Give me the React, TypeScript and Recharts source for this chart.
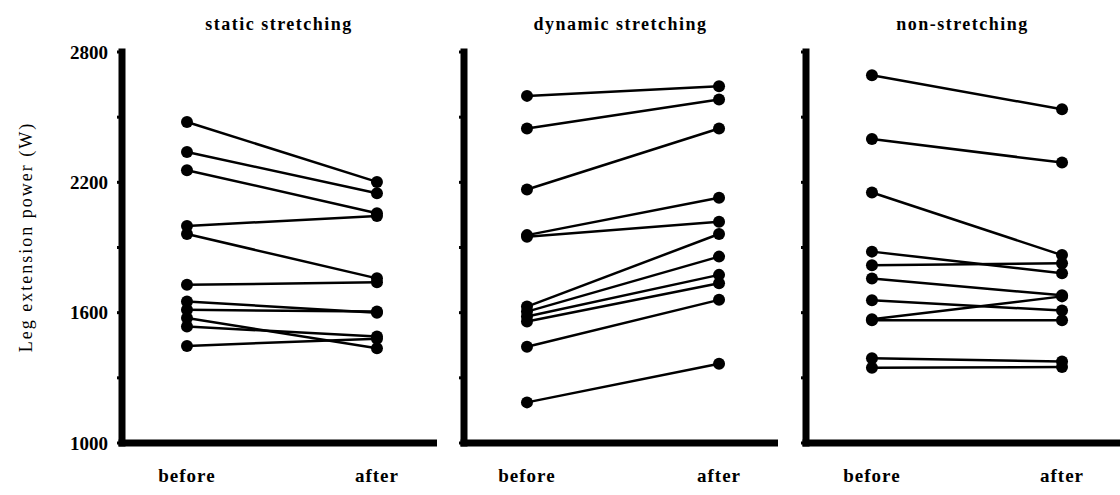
import { LineChart, Line, XAxis, YAxis } from 'recharts';

const panelTitles = ['static stretching', 'dynamic stretching', 'non-stretching'];
const phaseLabels = ['before', 'after'];
const powerTicks = [1000, 1300, 1600, 1900, 2200, 2500, 2800];
const labelledTicks = [1000, 1600, 2200, 2800];

const staticBefore = [2478, 2340, 2256, 1999, 1962, 1728, 1651, 1613, 1575, 1536, 1447];
const staticAfter = [2202, 2150, 2058, 2045, 1758, 1740, 1600, 1605, 1436, 1490, 1480];

const dynamicBefore = [2598, 2448, 2167, 1957, 1950, 1628, 1605, 1582, 1559, 1443, 1187];
const dynamicAfter = [2642, 2581, 2448, 2129, 2019, 1962, 1858, 1774, 1735, 1659, 1365];

const nonBefore = [2693, 2399, 2153, 1881, 1818, 1757, 1657, 1570, 1565, 1390, 1346];
const nonAfter = [2536, 2291, 1865, 1781, 1827, 1680, 1610, 1675, 1565, 1375, 1350];

const serif = '"Liberation Serif", "DejaVu Serif", serif';

// one row per phase, one key per subject
function buildRows(before: number[], after: number[]) {
  const b: Record<string, number> = { x: 0 };
  const a: Record<string, number> = { x: 1 };
  before.forEach((v, i) => { b[`s${i}`] = v; });
  after.forEach((v, i) => { a[`s${i}`] = v; });
  return [b, a];
}

const panels = [
  { title: panelTitles[0], rows: buildRows(staticBefore, staticAfter), n: staticBefore.length, left: 0, yw: 122, width: 437, domain: [-0.342, 1.316], showLabels: true },
  { title: panelTitles[1], rows: buildRows(dynamicBefore, dynamicAfter), n: dynamicBefore.length, left: 440, yw: 24, width: 338, domain: [-0.328, 1.307], showLabels: false },
  { title: panelTitles[2], rows: buildRows(nonBefore, nonAfter), n: nonBefore.length, left: 782, yw: 24, width: 338, domain: [-0.347, 1.305], showLabels: false },
];

const tickFont = { fill: '#000', fontSize: 19, fontWeight: 'bold', fontFamily: serif };

export default function App() {
  return (
    <div style={{ position: 'absolute', left: 0, top: 0, width: 1120, height: 495, background: '#fff', overflow: 'hidden' }}>
      {panels.map(p => (
        <div key={p.title}>
          <div style={{
            position: 'absolute', left: p.left + p.yw - 60, width: p.width - p.yw + 120 - 1, top: 12,
            textAlign: 'center', fontFamily: serif, fontWeight: 'bold', fontSize: 18, letterSpacing: 1.5, lineHeight: '24px',
          }}>
            {p.title}
          </div>
          <div style={{ position: 'absolute', left: p.left, top: 0 }}>
            <LineChart width={p.width} height={495} data={p.rows} margin={{ top: 52, right: 0, bottom: 0, left: 0 }}>
              <XAxis
                dataKey="x" type="number" domain={p.domain} allowDataOverflow ticks={[0, 1]}
                tickFormatter={(v: number) => phaseLabels[v]}
                height={52} tickLine={false} tickSize={0} tickMargin={26}
                axisLine={{ stroke: '#000', strokeWidth: 7, strokeLinecap: 'square' }}
                tick={{ ...tickFont, letterSpacing: 1 }}
              />
              <YAxis
                type="number" domain={[1000, 2800]} ticks={powerTicks} width={p.yw}
                tickFormatter={(v: number) => (p.showLabels && labelledTicks.includes(v) ? String(v) : '')}
                axisLine={{ stroke: '#000', strokeWidth: 7, strokeLinecap: 'square' }}
                tickLine={{ stroke: '#000', strokeWidth: 3 }} tickSize={5} tickMargin={9}
                tick={tickFont}
              />
              {Array.from({ length: p.n }, (_, i) => (
                <Line
                  key={i} dataKey={`s${i}`} type="linear" stroke="#000" strokeWidth={2.5}
                  dot={{ r: 6, fill: '#000', stroke: 'none' }} isAnimationActive={false}
                />
              ))}
            </LineChart>
          </div>
        </div>
      ))}
      <div style={{
        position: 'absolute', left: 26, top: 237, transform: 'translate(-50%, -50%) rotate(-90deg)',
        whiteSpace: 'nowrap', fontFamily: serif, fontSize: 18, letterSpacing: 2,
      }}>
        Leg extension power (W)
      </div>
    </div>
  );
}
